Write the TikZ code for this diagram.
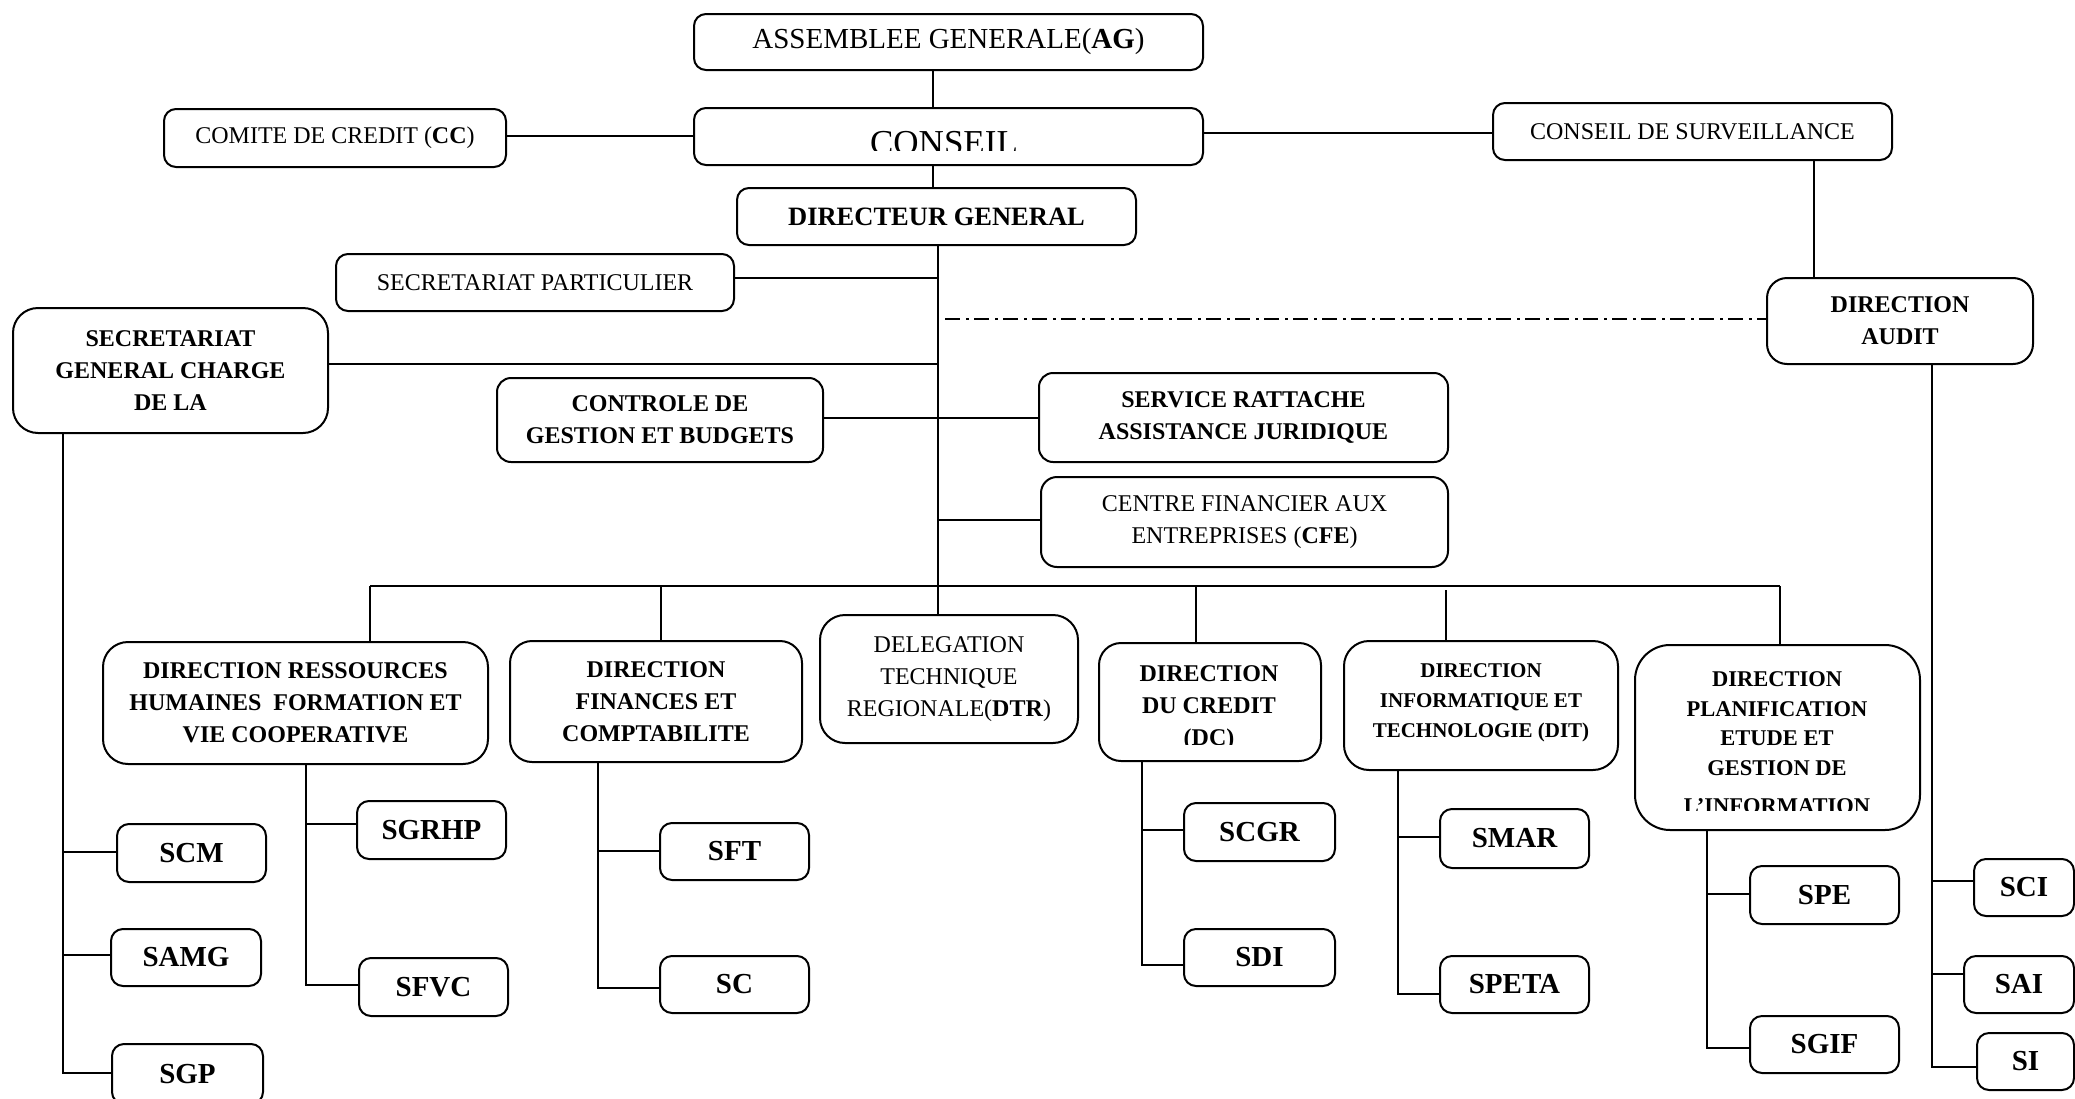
\documentclass[tikz,border=0pt]{standalone}
\usepackage{fontspec}
\setmainfont{Liberation Serif}
\newcommand\ntxt{\fontsize{24}{32}\selectfont}
\newcommand\btxt{\fontsize{24}{32}\selectfont\bfseries}
\newcommand\stxt{\fontsize{29}{34}\selectfont\bfseries}
\tikzset{
  box/.style={draw, line width=2pt, rounded corners=#1, inner sep=0pt, align=center, anchor=north west, font=\ntxt},
  box/.default=12pt,
  sbox/.style={box=12pt, font=\stxt},
  link/.style={line width=2pt},
  audit/.style={line width=2pt, dash pattern=on 15pt off 6pt on 2.5pt off 5.5pt},
  ctext/.style={inner sep=0pt, align=center, anchor=north}
}
\begin{document}
\begin{tikzpicture}[x=1pt,y=-1pt]
\useasboundingbox (0,0) rectangle (2075,1098);
\clip (0,0) rectangle (2075,1098);

% ---------- top level ----------
\node[box, minimum width=509pt, minimum height=56pt, font=\fontsize{29}{34}\selectfont] (ag) at (693,13) {ASSEMBLEE GENERALE(\textbf{AG})};
\node[box, minimum width=509pt, minimum height=57pt] (conseil) at (693,107) {};
\begin{scope}
  \clip (693,107) rectangle (1202,150);
  \node[inner sep=0pt, anchor=base, font=\fontsize{35}{40}\selectfont] (conseiltxt) at (944,154) {CONSEIL};
\end{scope}
\node[box, minimum width=342pt, minimum height=58pt] (cc) at (163,108) {COMITE DE CREDIT (\textbf{CC})};
\node[box, minimum width=399pt, minimum height=57pt] (cs) at (1492,102) {CONSEIL DE SURVEILLANCE};
\node[box, minimum width=399pt, minimum height=57pt, font=\fontsize{26.5}{32}\selectfont\bfseries] (dg) at (736,187) {DIRECTEUR GENERAL};
\node[box, minimum width=398pt, minimum height=57pt] (sp) at (335,253) {SECRETARIAT PARTICULIER};
\node[box=25pt, minimum width=315pt, minimum height=125pt, font=\btxt] (sg) at (12,307) {SECRETARIAT\\GENERAL CHARGE\\DE LA};
\node[box=20pt, minimum width=266pt, minimum height=86pt, font=\btxt] (da) at (1766,277) {DIRECTION\\AUDIT};
\node[box=14pt, minimum width=326pt, minimum height=84pt, font=\btxt] (cgb) at (496,377) {CONTROLE DE\\GESTION ET BUDGETS};
\node[box=14pt, minimum width=409pt, minimum height=89pt, font=\btxt] (sraj) at (1038,372) {SERVICE RATTACHE\\ASSISTANCE JURIDIQUE};
\node[box=16pt, minimum width=407pt, minimum height=90pt] (cfe) at (1040,476) {CENTRE FINANCIER AUX\\ENTREPRISES (\textbf{CFE})};

% ---------- directions ----------
\node[box=25pt, minimum width=385pt, minimum height=122pt, font=\btxt] (drh) at (102,641) {DIRECTION RESSOURCES\\HUMAINES\ \ FORMATION ET\\VIE COOPERATIVE};
\node[box=22pt, minimum width=292pt, minimum height=121pt, font=\btxt] (dfc) at (509,640) {DIRECTION\\FINANCES ET\\COMPTABILITE};
\node[box=25pt, minimum width=258pt, minimum height=128pt] (dtr) at (819,614) {DELEGATION\\TECHNIQUE\\REGIONALE(\textbf{DTR})};
\node[box=22pt, minimum width=222pt, minimum height=118pt] (dc) at (1098,642) {};
\begin{scope}
  \clip (1098,642) rectangle (1320,744);
  \node[ctext, font=\btxt] (dctxt) at (1209,665) {DIRECTION\\DU CREDIT\\(DC)};
\end{scope}
\node[box=25pt, minimum width=274pt, minimum height=129pt] (dit) at (1343,640) {};
\node[ctext, font=\fontsize{21}{30}\selectfont\bfseries] (dittxt) at (1481,663) {DIRECTION\\INFORMATIQUE ET\\TECHNOLOGIE (DIT)};
\node[box=35pt, minimum width=285pt, minimum height=185pt] (dpe) at (1634,644) {};
\begin{scope}
  \clip (1634,644) rectangle (1919,810);
  \node[ctext, font=\fontsize{22.5}{29.5}\selectfont\bfseries] (dpetxt) at (1777,671.5) {DIRECTION\\PLANIFICATION\\ETUDE ET\\GESTION DE\\[9pt]L’INFORMATION};
\end{scope}

% ---------- services ----------
\node[sbox, minimum width=149pt, minimum height=58pt] (scm) at (116,823) {SCM};
\node[sbox, minimum width=150pt, minimum height=57pt] (samg) at (110,928) {SAMG};
\node[sbox, minimum width=151pt, minimum height=60pt] (sgp) at (111,1043) {SGP};
\node[sbox, minimum width=149pt, minimum height=58pt] (sgrhp) at (356,800) {SGRHP};
\node[sbox, minimum width=149pt, minimum height=58pt] (sfvc) at (358,957) {SFVC};
\node[sbox, minimum width=149pt, minimum height=57pt] (sft) at (659,822) {SFT};
\node[sbox, minimum width=149pt, minimum height=57pt] (sc) at (659,955) {SC};
\node[sbox, minimum width=151pt, minimum height=58pt] (scgr) at (1183,802) {SCGR};
\node[sbox, minimum width=151pt, minimum height=57pt] (sdi) at (1183,928) {SDI};
\node[sbox, minimum width=149pt, minimum height=59pt] (smar) at (1439,808) {SMAR};
\node[sbox, minimum width=149pt, minimum height=57pt] (speta) at (1439,955) {SPETA};
\node[sbox, minimum width=149pt, minimum height=58pt] (spe) at (1749,865) {SPE};
\node[sbox, minimum width=149pt, minimum height=57pt] (sgif) at (1749,1015) {SGIF};
\node[sbox, minimum width=100pt, minimum height=57pt] (sci) at (1973,858) {SCI};
\node[sbox, minimum width=110pt, minimum height=57pt] (sai) at (1963,955) {SAI};
\node[sbox, minimum width=97pt, minimum height=57pt] (si) at (1976,1032) {SI};

% ---------- connectors: top ----------
\coordinate (xa) at (933,0);
\draw[link] (ag.south -| xa) -- (conseil.north -| xa);
\draw[link] (conseil.south -| xa) -- (dg.north -| xa);
\coordinate (ycc) at (0,136);
\draw[link] (cc.east |- ycc) -- (conseil.west |- ycc);
\coordinate (ycs) at (0,133);
\draw[link] (conseil.east |- ycs) -- (cs.west |- ycs);
\coordinate (xcs) at (1814,0);
\draw[link] (cs.south -| xcs) -- (da.north -| xcs);

% main trunk
\coordinate (xm) at (938,0);
\draw[link] (dg.south -| xm) -- (dtr.north -| xm);
\coordinate (jsp) at (938,278);
\draw[link] (sp.east |- jsp) -- (jsp);
\coordinate (jsg) at (938,364);
\draw[link] (sg.east |- jsg) -- (jsg);
\coordinate (jau) at (945,319);
\draw[audit] (jau) -- (da.west |- jau);
\coordinate (jcg) at (0,418);
\draw[link] (cgb.east |- jcg) -- (sraj.west |- jcg);
\coordinate (jcfe) at (938,520);
\draw[link] (jcfe) -- (cfe.west |- jcfe);

% bus
\coordinate (bus1) at (370,586);
\coordinate (bus2) at (661,586);
\coordinate (bus4) at (1196,586);
\coordinate (bus5) at (1446,590);
\coordinate (bus6) at (1780,586);
\draw[link] (bus1) -- (bus6);
\draw[link] (bus1) -- (drh.north -| bus1);
\draw[link] (bus2) -- (dfc.north -| bus2);
\draw[link] (bus4) -- (dc.north -| bus4);
\draw[link] (bus5) -- (dit.north -| bus5);
\draw[link] (bus6) -- (dpe.north -| bus6);

% SG trunk
\coordinate (ksg1) at (63,852);
\coordinate (ksg2) at (63,955);
\coordinate (ksg3) at (63,1073);
\draw[link] (sg.south -| ksg3) -- (ksg3) -- (sgp.west |- ksg3);
\draw[link] (ksg1) -- (scm.west |- ksg1);
\draw[link] (ksg2) -- (samg.west |- ksg2);

% DRH trunk
\coordinate (kdr1) at (306,824);
\coordinate (kdr2) at (306,985);
\draw[link] (drh.south -| kdr2) -- (kdr2) -- (sfvc.west |- kdr2);
\draw[link] (kdr1) -- (sgrhp.west |- kdr1);

% DFC trunk
\coordinate (kdf1) at (598,851);
\coordinate (kdf2) at (598,988);
\draw[link] (dfc.south -| kdf2) -- (kdf2) -- (sc.west |- kdf2);
\draw[link] (kdf1) -- (sft.west |- kdf1);

% DC trunk
\coordinate (kdc1) at (1142,830);
\coordinate (kdc2) at (1142,965);
\draw[link] (dc.south -| kdc2) -- (kdc2) -- (sdi.west |- kdc2);
\draw[link] (kdc1) -- (scgr.west |- kdc1);

% DIT trunk
\coordinate (kdi1) at (1398,837);
\coordinate (kdi2) at (1398,994);
\draw[link] (dit.south -| kdi2) -- (kdi2) -- (speta.west |- kdi2);
\draw[link] (kdi1) -- (smar.west |- kdi1);

% DPE trunk
\coordinate (kdp1) at (1707,894);
\coordinate (kdp2) at (1707,1048);
\draw[link] (dpe.south -| kdp2) -- (kdp2) -- (sgif.west |- kdp2);
\draw[link] (kdp1) -- (spe.west |- kdp1);

% DA trunk
\coordinate (kda1) at (1932,881);
\coordinate (kda2) at (1932,974);
\coordinate (kda3) at (1932,1067);
\draw[link] (da.south -| kda3) -- (kda3) -- (si.west |- kda3);
\draw[link] (kda1) -- (sci.west |- kda1);
\draw[link] (kda2) -- (sai.west |- kda2);
\end{tikzpicture}
\end{document}
